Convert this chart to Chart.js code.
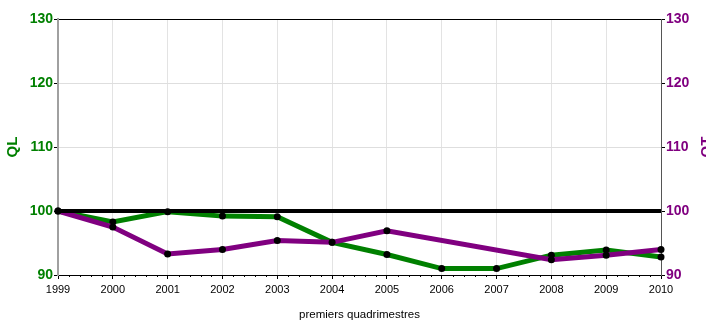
<!DOCTYPE html>
<html>
<head>
<meta charset="utf-8">
<script src="https://cdn.jsdelivr.net/npm/chart.js@4"></script>
<style>
  html, body { margin: 0; padding: 0; background: #fff; overflow: hidden; }
  #wrap { width: 706px; height: 322px; position: relative; }
</style>
</head>
<body>
<div id="wrap"><canvas id="chart"></canvas></div>
<script>
const years = ["1999", "2000", "2001", "2002", "2003", "2004", "2005", "2006", "2007", "2008", "2009", "2010"];
const qlValues = [100, 98.3, 99.9, 99.2, 99.1, 95.1, 93.2, 91.0, 91.0, 93.1, 93.9, 92.8];
const qtValues = [100, 97.5, 93.3, 94.0, 95.4, 95.1, 96.9, null, null, 92.4, 93.1, 94.0];
const baseline = [100, 100, 100, 100, 100, 100, 100, 100, 100, 100, 100, 100];
const yTicks = [90, 100, 110, 120, 130];

const GREEN = "#008000";
const PURPLE = "#800080";
const font = "'Liberation Sans', Arial, sans-serif";

// small ticks between the years + right axis title (rotated like the left one)
const extras = {
  id: "extras",
  afterDraw(chart) {
    const ctx = chart.ctx;
    const x = chart.scales.x;
    const bottom = chart.chartArea.bottom;
    ctx.save();
    ctx.strokeStyle = "#000";
    ctx.lineWidth = 1;
    for (let i = 0; i < years.length - 1; i++) {
      for (let k = 1; k < 5; k++) {
        const px = Math.round(x.getPixelForValue(i + k / 5)) + 0.5;
        ctx.beginPath();
        ctx.moveTo(px, bottom);
        ctx.lineTo(px, bottom + 2);
        ctx.stroke();
      }
    }
    const area = chart.chartArea;
    ctx.translate(711, (area.top + area.bottom) / 2);
    ctx.rotate(-Math.PI / 2);
    ctx.fillStyle = PURPLE;
    ctx.font = "bold 15px " + font;
    ctx.textAlign = "center";
    ctx.textBaseline = "alphabetic";
    ctx.fillText("QT", 0, 0);
    ctx.restore();
  },
};

const ctx = document.getElementById("chart").getContext("2d");

const myChart = new Chart(ctx, {
  type: "line",
  data: {
    labels: years,
    datasets: [
      {
        label: "base",
        data: baseline,
        yAxisID: "y",
        borderColor: "#000",
        borderWidth: 4,
        pointRadius: 0,
        order: 0,
      },
      {
        label: "QT",
        data: qtValues,
        yAxisID: "y1",
        borderColor: PURPLE,
        borderWidth: 5,
        pointRadius: 3.5,
        pointBackgroundColor: "#000",
        pointBorderWidth: 0,
        spanGaps: true,
        tension: 0,
        order: 1,
      },
      {
        label: "QL",
        data: qlValues,
        yAxisID: "y",
        borderColor: GREEN,
        borderWidth: 5,
        pointRadius: 3.5,
        pointBackgroundColor: "#000",
        pointBorderWidth: 0,
        tension: 0,
        order: 2,
      },
    ],
  },
  options: {
    responsive: true,
    maintainAspectRatio: false,
    animation: false,
    layout: { padding: { top: 19, left: 0, right: 0, bottom: 0 } },
    plugins: {
      legend: { display: false },
      tooltip: { enabled: false },
    },
    scales: {
      x: {
        grid: { color: "#e3e3e3", tickColor: "#000", tickLength: 4 },
        border: { color: "#000", width: 1 },
        ticks: {
          color: "#000",
          font: { family: font, size: 11 },
          padding: 4,
          maxRotation: 0,
          autoSkip: false,
        },
        title: {
          display: true,
          text: "premiers quadrimestres",
          color: "#000",
          font: { family: font, size: 11.5 },
          padding: { top: 0, bottom: 0 },
        },
        afterFit: (scale) => { scale.height = 47; },
      },
      y: {
        position: "left",
        min: 90,
        max: 130,
        afterBuildTicks: (scale) => { scale.ticks = yTicks.map((v) => ({ value: v })); },
        grid: {
          color: (c) => (c.tick && c.tick.value === 130 ? "#000" : "#dedede"),
          tickColor: "#000",
          tickLength: 4,
        },
        border: { color: "#a0a0a0", width: 2 },
        ticks: {
          color: GREEN,
          font: { family: font, size: 14, weight: "bold" },
          padding: 1,
        },
        title: {
          display: true,
          text: "QL",
          color: GREEN,
          font: { family: font, size: 15, weight: "bold" },
          padding: { top: 4, bottom: 0 },
        },
        afterFit: (scale) => { scale.width = 58; },
      },
      y1: {
        position: "right",
        min: 90,
        max: 130,
        afterBuildTicks: (scale) => { scale.ticks = yTicks.map((v) => ({ value: v })); },
        grid: { drawOnChartArea: false, tickColor: "#000", tickLength: 4 },
        border: { color: "#555", width: 1 },
        ticks: {
          color: PURPLE,
          font: { family: font, size: 14, weight: "bold" },
          padding: 1,
        },
        afterFit: (scale) => { scale.width = 45; },
      },
    },
  },
  plugins: [extras],
});
</script>
</body>
</html>
